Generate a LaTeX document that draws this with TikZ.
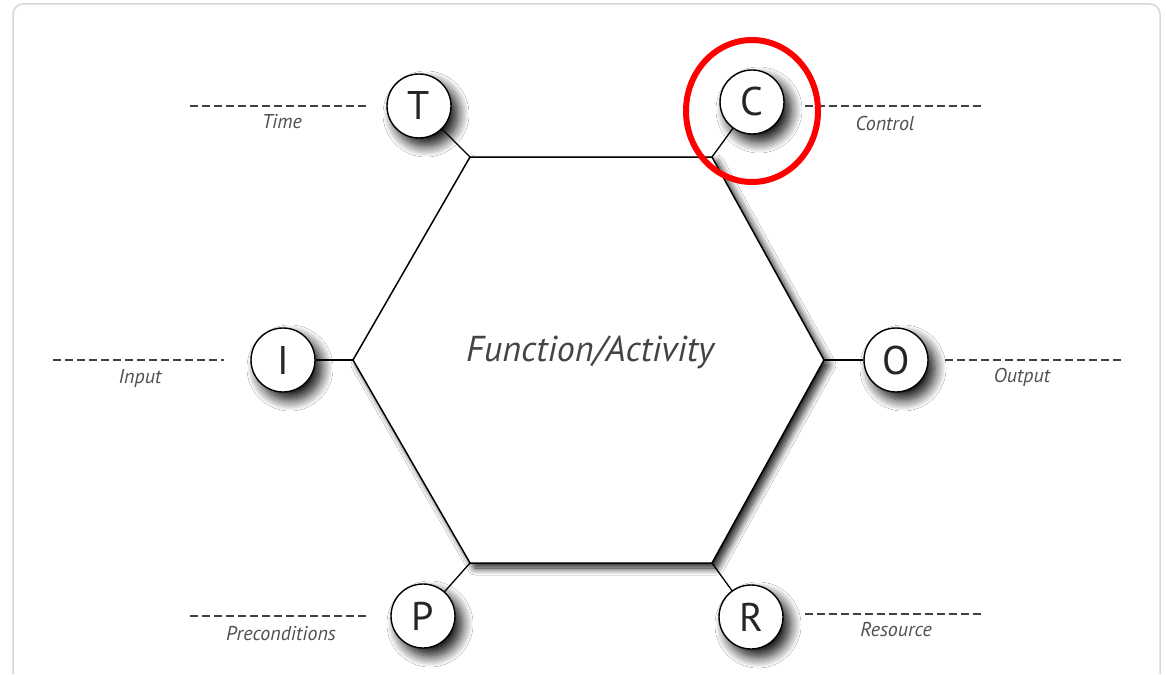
\documentclass[tikz,border=0pt]{standalone}
\usepackage{fontspec}
\setmainfont{PT Sans}
\usetikzlibrary{shadows.blur}
\definecolor{labelgray}{HTML}{505050}
\definecolor{framegray}{HTML}{D8D8D8}
\definecolor{textgray}{HTML}{444444}
\begin{document}
\begin{tikzpicture}[x=1pt,y=-1pt,
  circ/.style={circle, draw=black, line width=1.4pt, fill=white, minimum size=64pt, inner sep=0pt,
    font=\fontsize{40}{40}\selectfont, text=black!85,
    blur shadow={shadow xshift=7pt, shadow yshift=-8pt, shadow blur radius=11pt, shadow blur steps=12, shadow opacity=95}},
  lab/.style={font=\fontsize{20}{20}\selectfont\itshape, text=labelgray, inner sep=0pt},
  dashline/.style={draw=black!75, line width=1.3pt, dash pattern=on 8pt off 4pt},
  conn/.style={draw=black, line width=1.3pt},
  hexa/.style={draw=black, line width=1.5pt, fill=white,
    blur shadow={shadow xshift=5pt, shadow yshift=-5pt, shadow blur radius=7pt, shadow blur steps=10, shadow opacity=90}},
]
\useasboundingbox (0,0) rectangle (1166,674);
\fill[white] (0,0) rectangle (1166,674);
\draw[framegray, line width=1.5pt, rounded corners=10pt] (13,674) -- (13,4) -- (1160,4) -- (1160,674);

% hexagon vertices
\coordinate (hTL) at (470,157);
\coordinate (hTR) at (712,157);
\coordinate (hR)  at (824,360);
\coordinate (hBR) at (712,563);
\coordinate (hBL) at (470,563);
\coordinate (hL)  at (353,360);
\path[hexa] (hTL) -- (hTR) -- (hR) -- (hBR) -- (hBL) -- (hL) -- cycle;
\node[font=\fontsize{36}{36}\selectfont\itshape, text=textgray] (func) at (590,352) {Function/Activity};

% circles
\node[circ] (T) at (419,106) {T};
\node[circ] (C) at (752,102) {C};
\node[circ] (I) at (283,360) {I};
\node[circ] (O) at (896,360) {O};
\node[circ] (P) at (423,616) {P};
\node[circ] (R) at (751,617) {R};

% connectors
\draw[conn] (T) -- (hTL);
\draw[conn] (C) -- (hTR);
\draw[conn] (I) -- (hL);
\draw[conn] (O) -- (hR);
\draw[conn] (P) -- (hBL);
\draw[conn] (R) -- (hBR);

% dashed lines and labels
\coordinate (tA) at (190,106); \coordinate (tB) at (369,106);
\draw[dashline] (tA) -- (tB);
\node[lab] (tl) at (282,122) {Time};
\coordinate (cA) at (805,106); \coordinate (cB) at (984,106);
\draw[dashline] (cA) -- (cB);
\node[lab] (cl) at (885,124) {Control};
\coordinate (iA) at (53,360); \coordinate (iB) at (224,360);
\draw[dashline] (iA) -- (iB);
\node[lab] (il) at (140,378) {Input};
\coordinate (oA) at (945,360); \coordinate (oB) at (1122,360);
\draw[dashline] (oA) -- (oB);
\node[lab] (ol) at (1022,377) {Output};
\coordinate (pA) at (190,616); \coordinate (pB) at (369,616);
\draw[dashline] (pA) -- (pB);
\node[lab] (pl) at (281,634) {Preconditions};
\coordinate (rA) at (805,614); \coordinate (rB) at (984,614);
\draw[dashline] (rA) -- (rB);
\node[lab] (rl) at (896,630) {Resource};

% red highlight
\draw[red, line width=6pt] (752,111) ellipse [x radius=66pt, y radius=71pt];
\end{tikzpicture}
\end{document}
